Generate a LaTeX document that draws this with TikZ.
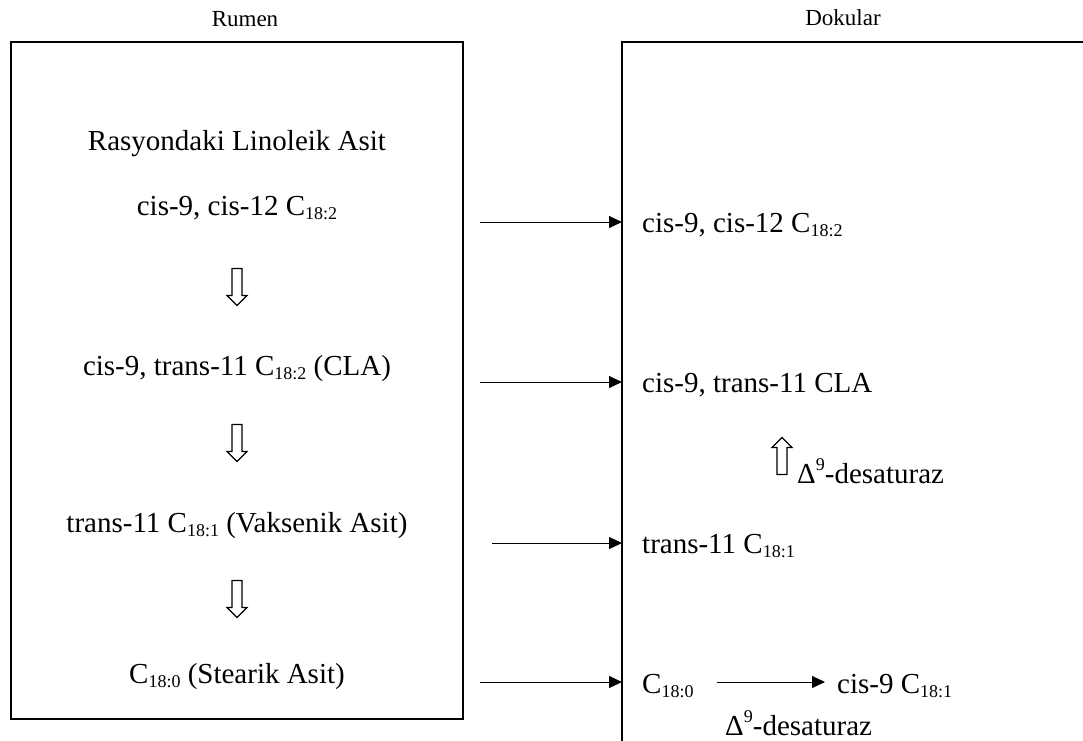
\documentclass[tikz,border=0pt]{standalone}
\usepackage{fontspec}
\setmainfont{Liberation Serif}
\usetikzlibrary{arrows.meta}
\newcommand{\sbs}[1]{\raisebox{-0.17em}{\fontsize{18}{18}\selectfont #1}}
\newcommand{\sps}[1]{\raisebox{0.42em}{\fontsize{18}{18}\selectfont #1}}

\tikzset{
  txt/.style={font=\fontsize{29}{34}\selectfont, inner sep=0pt, anchor=base},
  rtxt/.style={txt, anchor=base west},
  ttl/.style={font=\fontsize{23}{27}\selectfont, inner sep=0pt, anchor=base},
  frame/.style={line width=1.3pt},
  flow/.style={line width=1pt, -{Triangle[length=13pt,width=12pt]}},
  hollowdown/.pic={
    \draw[line width=1.2pt, fill=white] (-5,-18.5) -- (5,-18.5) -- (5,8.5)
      -- (10,8.5) -- (0,18.5) -- (-10,8.5) -- (-5,8.5) -- cycle;
  }
}

\begin{document}
\begin{tikzpicture}[x=1pt,y=-1pt]
  \useasboundingbox (0,0) rectangle (1083,740);

  % titles
  \node[ttl] (rumen) at (245,26) {Rumen};
  \node[ttl] (dokular) at (843,25) {Dokular};

  % frames
  \draw[frame] (11,42) rectangle (463,719);
  \draw[frame] (1083,42) -- (622,42) -- (622,741);

  % rumen
  \node[txt] (r0) at (237,150) {Rasyondaki Linoleik Asit};
  \node[txt] (r1) at (237,215) {cis-9, cis-12 C\sbs{18:2}};
  \pic (d1) at (237,287) {hollowdown};
  \node[txt] (r2) at (237,375) {cis-9, trans-11 C\sbs{18:2} (CLA)};
  \pic (d2) at (237,443) {hollowdown};
  \node[txt] (r3) at (237,532) {trans-11 C\sbs{18:1} (Vaksenik Asit)};
  \pic (d3) at (237,599) {hollowdown};
  \node[txt] (r4) at (237,683) {C\sbs{18:0} (Stearik Asit)};

  % dokular
  \node[rtxt] (q1) at (642,232) {cis-9, cis-12 C\sbs{18:2}};
  \node[rtxt] (q2) at (642,392) {cis-9, trans-11 CLA};
  \pic[rotate=180] (u1) at (782,456) {hollowdown};
  \node[rtxt] (des1) at (797,483) {Δ\sps{9}-desaturaz};
  \node[rtxt] (q3) at (642,553) {trans-11 C\sbs{18:1}};
  \node[rtxt] (q4) at (642,693) {C\sbs{18:0}};
  \node[rtxt] (q5) at (837,693) {cis-9 C\sbs{18:1}};
  \node[rtxt] (des2) at (725,735) {Δ\sps{9}-desaturaz};

  % transfer
  \coordinate (s1) at (480,222); \coordinate (e1) at (622,222);
  \coordinate (s2) at (480,382); \coordinate (e2) at (622,382);
  \coordinate (s3) at (492,543); \coordinate (e3) at (622,543);
  \coordinate (s4) at (480,682); \coordinate (e4) at (622,682);
  \coordinate (c1) at (717,682); \coordinate (c2) at (825,682);
  \draw[flow] (s1) -- (e1);
  \draw[flow] (s2) -- (e2);
  \draw[flow] (s3) -- (e3);
  \draw[flow] (s4) -- (e4);
  \draw[flow] (c1) -- (c2);
\end{tikzpicture}
\end{document}
